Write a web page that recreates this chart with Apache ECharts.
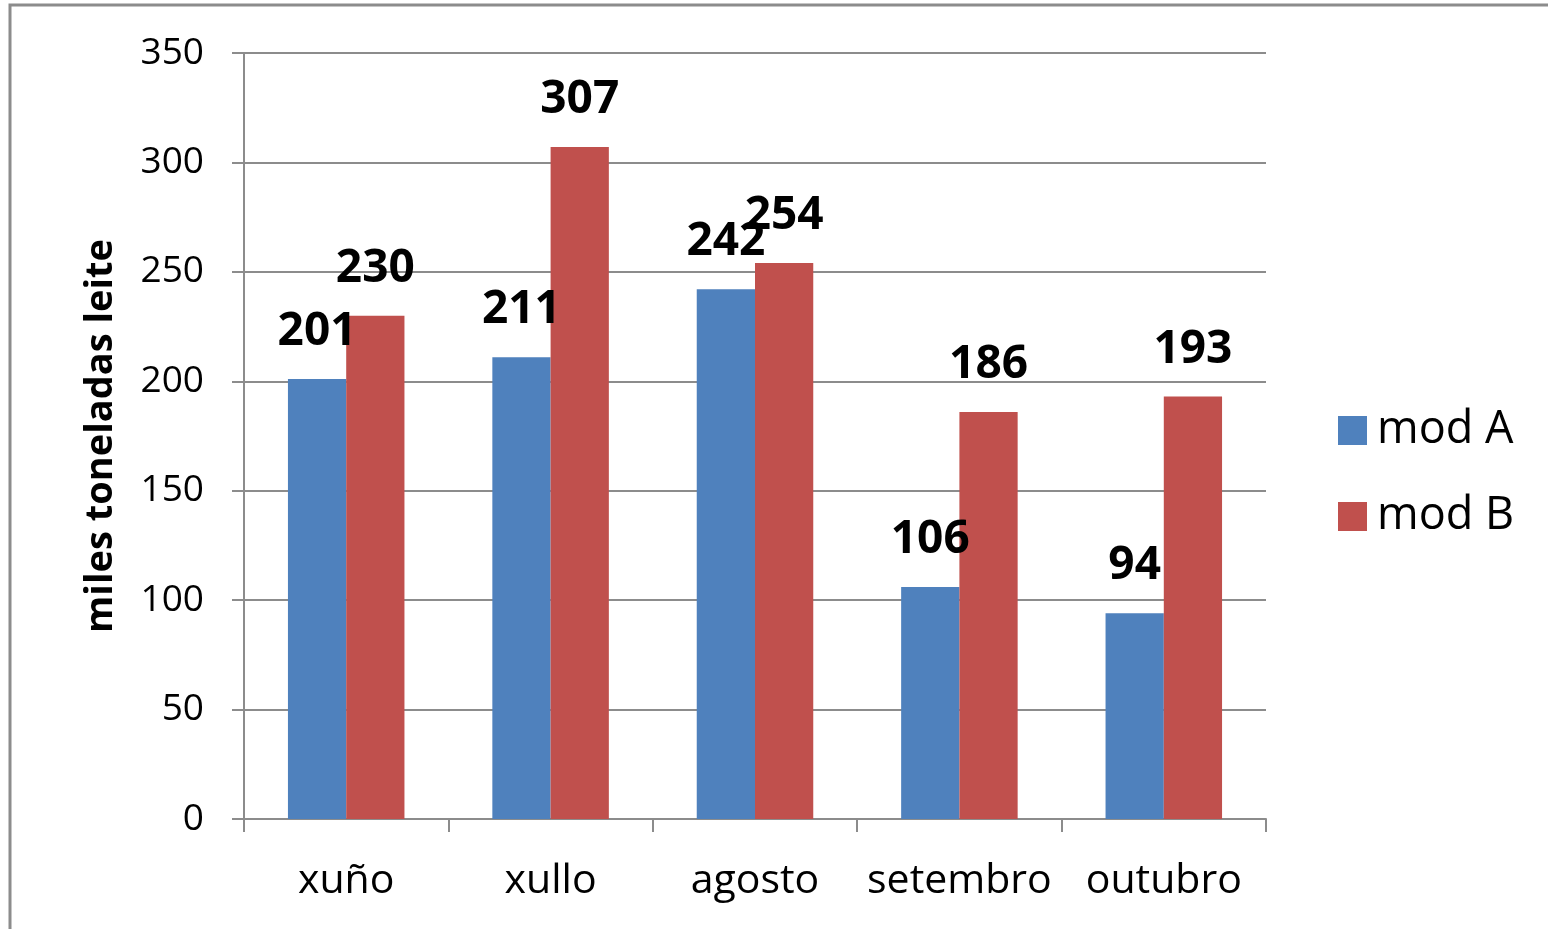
<!DOCTYPE html>
<html>
<head>
<meta charset="utf-8">
<script src="https://cdn.jsdelivr.net/npm/echarts@6/dist/echarts.min.js"></script>
<style>
  html, body { margin: 0; padding: 0; background: #fff; }
  #chart { width: 1548px; height: 929px; }
</style>
</head>
<body>
<div id="chart"></div>
<script>
// meses e valores (miles de toneladas de leite)
var categories = ['xuño', 'xullo', 'agosto', 'setembro', 'outubro'];
var modA = [201, 211, 242, 106, 94];
var modB = [230, 307, 254, 186, 193];
var seriesNames = ['mod A', 'mod B'];
var yTicks = { min: 0, max: 350, interval: 50 };

var FONT = 'Open Sans';
var GRAY = '#8c8c8c';

var chart = echarts.init(document.getElementById('chart'));

function barLabel() {
  return {
    show: true,
    position: 'top',
    distance: 24,
    color: '#000',
    fontFamily: FONT,
    fontWeight: 'bold',
    fontSize: 46
  };
}

chart.setOption({
  animation: false,
  color: ['#4F81BD', '#C0504D'],
  graphic: [{
    type: 'rect',
    shape: { x: 10, y: 5, width: 1600, height: 1000 },
    style: { fill: 'none', stroke: GRAY, lineWidth: 3 },
    silent: true
  }],
  grid: { left: 244, right: 282, top: 53, bottom: 110 },
  legend: {
    orient: 'vertical',
    left: 1333,
    top: 403,
    itemWidth: 29,
    itemHeight: 29,
    itemGap: 41,
    icon: 'rect',
    textStyle: { fontFamily: FONT, fontSize: 45, color: '#000', padding: [0, 0, 0, 5] },
    data: seriesNames
  },
  xAxis: {
    type: 'category',
    data: categories,
    axisLine: { lineStyle: { color: GRAY, width: 2 } },
    axisTick: { show: true, interval: 0, length: 13, lineStyle: { color: GRAY, width: 2 } },
    axisLabel: { interval: 0, color: '#000', fontFamily: FONT, fontSize: 41, margin: 42 }
  },
  yAxis: {
    type: 'value',
    min: yTicks.min,
    max: yTicks.max,
    interval: yTicks.interval,
    name: 'miles toneladas leite',
    nameLocation: 'middle',
    nameGap: 124,
    nameTextStyle: { color: '#000', fontFamily: FONT, fontWeight: 'bold', fontSize: 38 },
    axisLine: { show: true, lineStyle: { color: GRAY, width: 2 } },
    axisTick: { show: true, length: 12, lineStyle: { color: GRAY, width: 2 } },
    axisLabel: { color: '#000', fontFamily: FONT, fontSize: 37, margin: 40 },
    splitLine: { lineStyle: { color: GRAY, width: 2 } }
  },
  series: [
    {
      name: seriesNames[0],
      type: 'bar',
      data: modA,
      barGap: '0%',
      barCategoryGap: '43%',
      label: barLabel()
    },
    {
      name: seriesNames[1],
      type: 'bar',
      data: modB,
      barGap: '0%',
      barCategoryGap: '43%',
      label: barLabel()
    }
  ]
});
</script>
</body>
</html>
